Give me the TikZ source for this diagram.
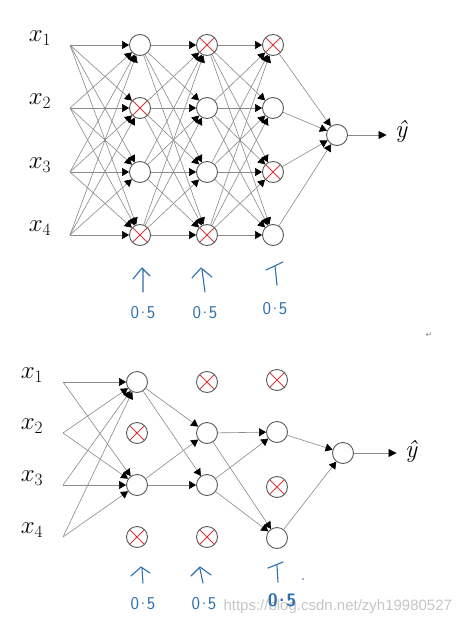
\documentclass[tikz,border=0pt]{standalone}
\usepackage{fontspec}
\usetikzlibrary{arrows.meta}
\newfontfamily\wmfont{Liberation Sans}
\newfontfamily\symfont{DejaVu Sans}
\definecolor{ecol}{HTML}{8A8A8A}
\definecolor{ncol}{HTML}{5A5A5A}
\definecolor{xred}{HTML}{D9383A}
\definecolor{hblue}{HTML}{2F6FAD}
\newcommand\halfval{0\kern1.5pt\raisebox{0.28em}{.}\kern1.5pt5}
\begin{document}
\begin{tikzpicture}[x=1pt,y=-1pt,
 neuron/.style={circle, draw=ncol, line width=0.9pt, minimum size=21pt, inner sep=0pt, fill=white},
 dropped/.style={neuron, path picture={\draw[xred, line width=0.9pt]
   (path picture bounding box.north west) -- (path picture bounding box.south east)
   (path picture bounding box.north east) -- (path picture bounding box.south west);}},
 conn/.style={draw=ecol, line width=0.6pt, -{Triangle[color=black,length=7pt,width=8pt]}},
 outconn/.style={draw=ecol, line width=0.8pt, shorten >=5pt, -{Triangle[color=black,length=8pt,width=8pt]}},
 handarrow/.style={draw=hblue, line width=1.1pt, line cap=round, line join=round},
 hlabel/.style={text=hblue, font=\sffamily\fontsize{18}{18}\selectfont},
 xlab/.style={font=\fontsize{26}{30}\selectfont},
 ylab/.style={font=\itshape\fontsize{25}{28}\selectfont},
]
\useasboundingbox (0,0) rectangle (465,624);
\fill[white] (0,0) rectangle (465,624);

% ---------------- top network ----------------
\foreach \s/\y in {a/45,b/108,c/172,d/235}{
  \coordinate (ti\s) at (70,\y);
}
\node[xlab] (tx1) at (40,38) {$x_1$};
\node[xlab] (tx2) at (40,101) {$x_2$};
\node[xlab] (tx3) at (40,165) {$x_3$};
\node[xlab] (tx4) at (40,228) {$x_4$};

\node[neuron]  (t1a) at (140,45) {};
\node[dropped] (t1b) at (140,108) {};
\node[neuron]  (t1c) at (140,172) {};
\node[dropped] (t1d) at (140,235) {};

\node[dropped] (t2a) at (207,45) {};
\node[neuron]  (t2b) at (207,108) {};
\node[neuron]  (t2c) at (207,172) {};
\node[dropped] (t2d) at (207,235) {};

\node[dropped] (t3a) at (273,45) {};
\node[neuron]  (t3b) at (273,108) {};
\node[dropped] (t3c) at (273,172) {};
\node[neuron]  (t3d) at (273,235) {};

\node[neuron] (to) at (337,135) {};
\node[ylab] (ty) at (401,131) {ŷ};

\foreach \s in {a,b,c,d}{
  \foreach \t in {a,b,c,d}{
    \draw[conn] (ti\s) -- (t1\t);
    \draw[conn] (t1\s) -- (t2\t);
    \draw[conn] (t2\s) -- (t3\t);
  }
  \draw[conn] (t3\s) -- (to);
}
\draw[outconn] (to) -- (to -| ty.west);

% hand arrows top
\draw[handarrow] (143,292) -- (143,269) (133,279) -- (142,268) -- (150,276);
\draw[handarrow] (205,292) -- (202,270) (192,278) -- (201,268) -- (212,277);
\draw[handarrow] (277,285) -- (275,266) (266,270) -- (283,262);
\node[hlabel] (tl1) at (143,313) {\halfval};
\node[hlabel] (tl2) at (205,313) {\halfval};
\node[hlabel] (tl3) at (275,309) {\halfval};

\node[text=gray, font=\symfont\fontsize{8}{8}\selectfont] (ret) at (429,335) {↵};

% ---------------- bottom network ----------------
\foreach \s/\y in {a/382,b/433,c/485,d/537}{
  \coordinate (bi\s) at (63,\y);
}
\node[xlab] (bx1) at (32,375) {$x_1$};
\node[xlab] (bx2) at (32,426) {$x_2$};
\node[xlab] (bx3) at (32,478) {$x_3$};
\node[xlab] (bx4) at (32,530) {$x_4$};

\node[neuron]  (b1a) at (137,382) {};
\node[dropped] (b1b) at (137,433) {};
\node[neuron]  (b1c) at (137,485) {};
\node[dropped] (b1d) at (137,537) {};

\node[dropped] (b2a) at (207,382) {};
\node[neuron]  (b2b) at (207,433) {};
\node[neuron]  (b2c) at (207,485) {};
\node[dropped] (b2d) at (207,537) {};

\node[dropped] (b3a) at (277,380) {};
\node[neuron]  (b3b) at (277,432) {};
\node[dropped] (b3c) at (277,487) {};
\node[neuron]  (b3d) at (277,538) {};

\node[neuron] (bo) at (343,453) {};
\node[ylab] (by) at (411,451) {ŷ};

\foreach \s in {a,b,c,d}{
  \draw[conn] (bi\s) -- (b1a);
  \draw[conn] (bi\s) -- (b1c);
}
\foreach \s in {a,c}{
  \draw[conn] (b1\s) -- (b2b);
  \draw[conn] (b1\s) -- (b2c);
}
\foreach \s in {b,c}{
  \draw[conn] (b2\s) -- (b3b);
  \draw[conn] (b2\s) -- (b3d);
}
\draw[conn] (b3b) -- (bo);
\draw[conn] (b3d) -- (bo);
\draw[outconn] (bo) -- (bo -| by.west);

% hand arrows bottom
\draw[handarrow] (143,583) -- (142,569) (131,576) -- (141,567) -- (150,573);
\draw[handarrow] (203,583) -- (200,569) (191,576) -- (200,567) -- (211,575);
\draw[handarrow] (278,582) -- (277,566) (268,568) -- (283,562);
\fill[hblue] (303,579) circle (0.9pt);
\node[hlabel] (bl1) at (143,604) {\halfval};
\node[hlabel] (bl2) at (204,604) {\halfval};

\node[text=gray!45, font=\wmfont\fontsize{15}{15}\selectfont, anchor=west] (wm) at (220,607) {https://blog.csdn.net/zyh19980527};
\node[hlabel, font=\sffamily\bfseries\fontsize{18}{18}\selectfont] (bl3) at (282,600) {\halfval};
\end{tikzpicture}
\end{document}
